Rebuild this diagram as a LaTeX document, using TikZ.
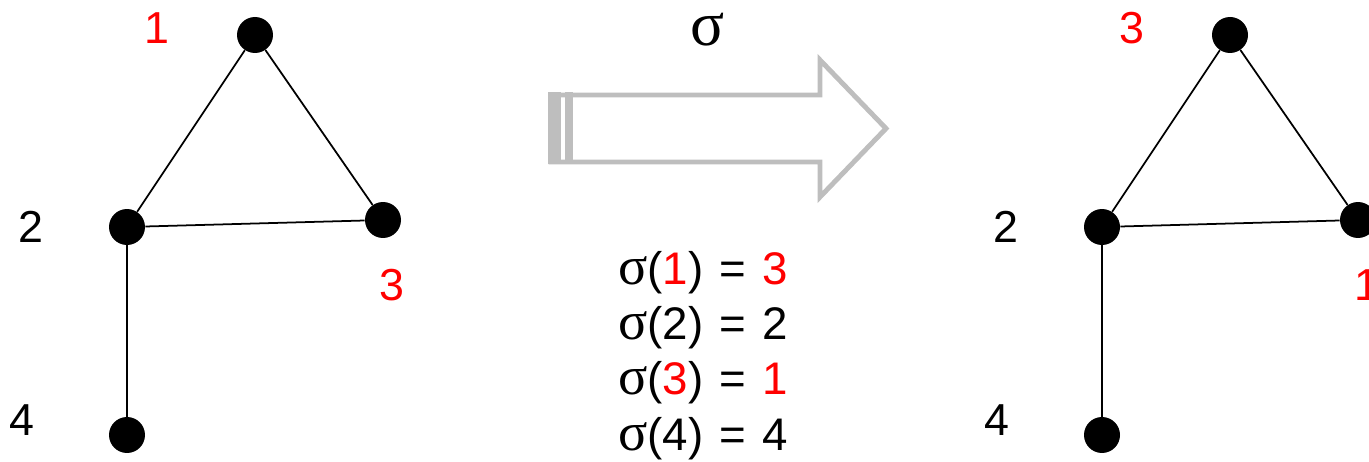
\documentclass[tikz,border=0pt]{standalone}
\usepackage{fontspec}
\setmainfont{Liberation Sans}
\newfontfamily\greekfont{Liberation Serif}
\usetikzlibrary{positioning}
\definecolor{arrowgray}{RGB}{190,190,190}
\definecolor{labelred}{RGB}{255,0,0}
\newcommand{\sig}{{\greekfont\fontsize{31}{34}\selectfont σ}}
\newcommand{\eqs}{\hspace{2pt} = \hspace{2pt}}

\begin{document}
\begin{tikzpicture}[
    x=0.02cm, y=-0.02cm,
    vertex/.style={circle, fill=black, minimum size=0.72cm, inner sep=0pt},
    edge/.style={line width=1pt},
    lbl/.style={font=\fontsize{25.5}{28}\selectfont, inner sep=0pt},
    mapline/.style={font=\fontsize{26}{30}\selectfont, inner sep=0pt, anchor=base west},
    bigarrow/.style={draw=arrowgray, line width=2.8pt, line join=miter}
]
    \useasboundingbox (0,0) rectangle (1369,462);

    % graph before and after
    \foreach \g/\dx/\ta/\tc in {L/0/1/3, R/975/3/1}{
      \begin{scope}[shift={(\dx,0)}]
        \node[vertex] (\g1) at (255,35) {};
        \node[vertex] (\g2) at (127,227) {};
        \node[vertex] (\g3) at (383,220) {};
        \node[vertex] (\g4) at (127,435) {};
        \draw[edge] (\g1) -- (\g2);
        \draw[edge] (\g2) -- (\g3);
        \draw[edge] (\g3) -- (\g1);
        \draw[edge] (\g2) -- (\g4);
        \node[lbl, labelred] (\g n1) at (157,28) {\ta};
        \node[lbl] (\g n2) at (31,227) {2};
        \node[lbl, labelred] (\g n3) at (392,285) {\tc};
        \node[lbl] (\g n4) at (22,420) {4};
      \end{scope}
    }

    % the big arrow
    \draw[bigarrow] (551,95) -- (820,95) -- (820,60) -- (886,128.5)
        -- (820,197) -- (820,162) -- (551,162) -- cycle;
    \fill[arrowgray] (548,92.5) rectangle (561,164.5);
    \fill[arrowgray] (565,92.5) rectangle (573,164.5);
    \node[font=\greekfont\fontsize{36}{38}\selectfont, inner sep=0pt] (sigma) at (708,30) {σ};

    % the mapping
    \node[mapline] (map1) at (618,285) {\sig(\textcolor{labelred}{1})\eqs\textcolor{labelred}{3}};
    \node[mapline] (map2) at (618,340) {\sig(2)\eqs 2};
    \node[mapline] (map3) at (618,395) {\sig(\textcolor{labelred}{3})\eqs\textcolor{labelred}{1}};
    \node[mapline] (map4) at (618,450) {\sig(4)\eqs 4};
\end{tikzpicture}
\end{document}
